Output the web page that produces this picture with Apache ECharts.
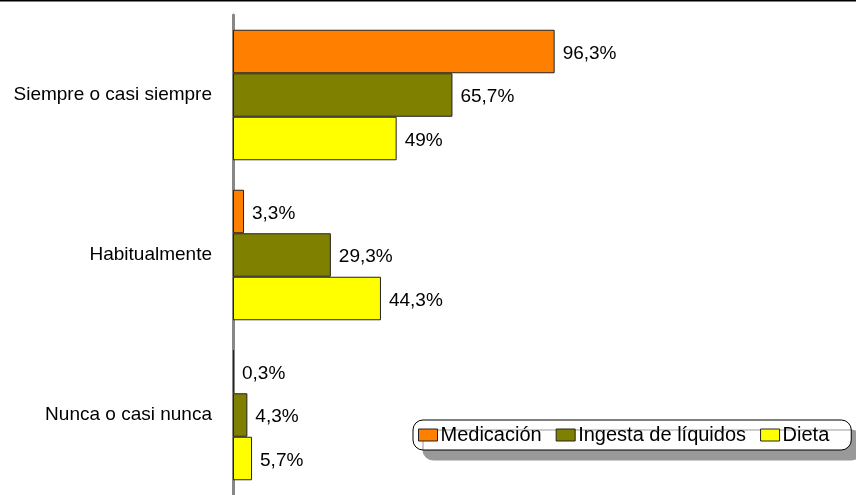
<!DOCTYPE html>
<html>
<head>
<meta charset="utf-8">
<script src="https://cdn.jsdelivr.net/npm/echarts@6/dist/echarts.min.js"></script>
<style>
	html, body { margin: 0; padding: 0; background: #fff; }
	#chart { width: 856px; height: 495px; }
</style>
</head>
<body>
<div id="chart"></div>
<script>
let categories = ['Siempre o casi siempre', 'Habitualmente', 'Nunca o casi nunca'];
let medicacion = [96.3, 3.3, 0.3];
let liquidos = [65.7, 29.3, 4.3];
let dieta = [49, 44.3, 5.7];
let series_names = ['Medicación', 'Ingesta de líquidos', 'Dieta'];
let series_colors = ['#FF8000', '#808000', '#FFFF00'];

let chart = echarts.init(document.getElementById('chart'));

// etiqueta con coma decimal
let fmt = (p) => String(p.value).replace('.', ',') + '%';

let make_series = (name, data, color) => ({
	name: name,
	type: 'bar',
	data: data,
	barWidth: 43.5,
	barGap: '0%',
	itemStyle: { color: color, borderColor: '#222', borderWidth: 1 },
	label: {
		show: true,
		position: 'right',
		distance: 8,
		offset: [0, 2],
		color: '#000',
		fontSize: 19,
		fontFamily: 'Liberation Sans, Arial, sans-serif',
		formatter: fmt,
	},
});

let option = {
	animation: false,
	textStyle: { fontFamily: 'Liberation Sans, Arial, sans-serif' },
	grid: { left: 233, top: 15, width: 334, height: 488, containLabel: false },
	xAxis: {
		type: 'value',
		min: 0,
		max: 100,
		show: false,
	},
	yAxis: {
		type: 'category',
		data: categories,
		inverse: true,
		axisTick: { show: false },
		axisLine: { show: true, lineStyle: { color: '#888', width: 3 } },
		axisLabel: { color: '#000', fontSize: 19, margin: 21, padding: [4, 0, 0, 0] },
	},
	legend: {
		data: series_names,
		icon: 'rect',
		left: 413,
		top: 420,
		itemWidth: 19,
		itemHeight: 12,
		itemGap: 14,
		padding: [5, 22, 5, 5],
		borderColor: '#000',
		borderWidth: 1,
		borderRadius: 10,
		backgroundColor: '#fff',
		shadowColor: '#999',
		shadowOffsetX: 10,
		shadowOffsetY: 10,
		shadowBlur: 0,
		textStyle: { color: '#000', fontSize: 20, padding: [0, 0, 0, -2] },
		itemStyle: { borderColor: '#222', borderWidth: 1 },
	},
	graphic: [
		{
			type: 'line',
			shape: { x1: 0, y1: 0.5, x2: 856, y2: 0.5 },
			style: { stroke: '#000', lineWidth: 2 },
		},
	],
	series: [
		make_series(series_names[0], medicacion, series_colors[0]),
		make_series(series_names[1], liquidos, series_colors[1]),
		make_series(series_names[2], dieta, series_colors[2]),
	],
};
chart.setOption(option);
</script>
</body>
</html>
